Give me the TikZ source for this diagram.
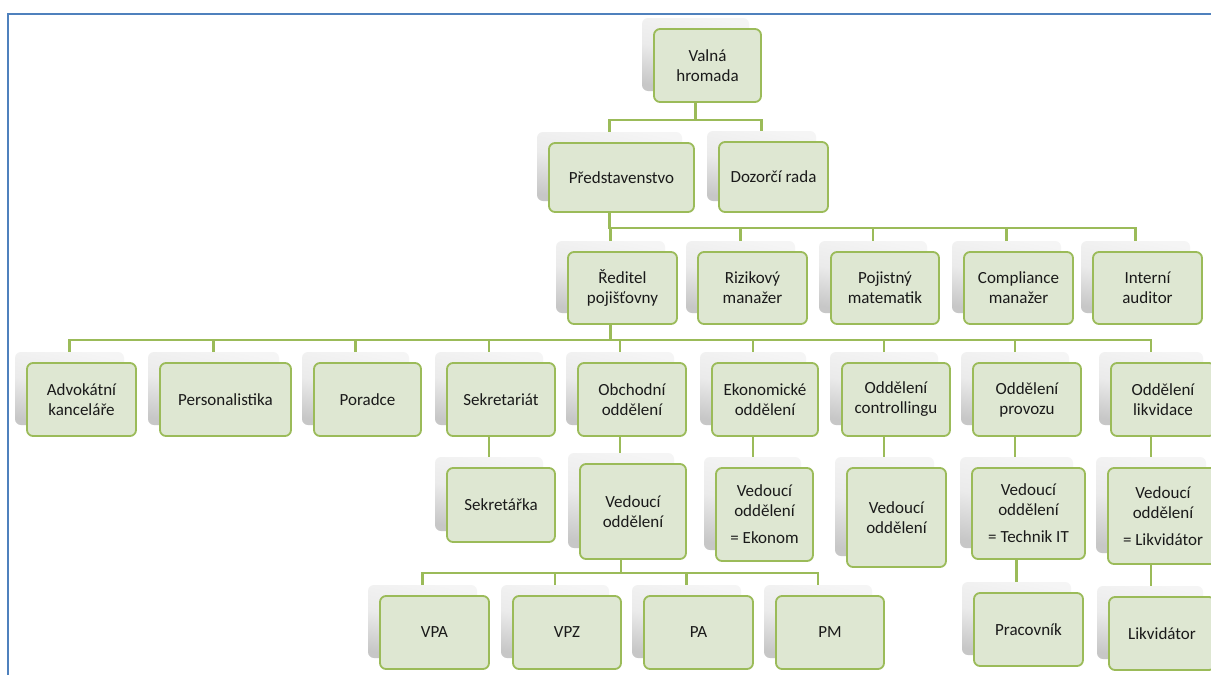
\documentclass[tikz,border=0pt]{standalone}
\usepackage{fontspec}
\setmainfont{Carlito}
\usetikzlibrary{calc}
\pgfdeclarelayer{bg}
\pgfsetlayers{bg,main}
\definecolor{ogreen}{HTML}{9BBB59}
\definecolor{ofill}{HTML}{DEE7D2}
\definecolor{oblue}{HTML}{4F81BD}
\definecolor{otext}{HTML}{1A1A1A}
\tikzset{
  backcard/.style={draw=none, rounded corners=6pt, top color=white!96!black, bottom color=black!22, middle color=white!92!black, shading angle=-12, inner sep=0pt},
  frontcard/.style={draw=ogreen, line width=1.8pt, fill=ofill, rounded corners=6pt, inner sep=0pt, align=center, text=otext, font=\fontsize{17}{20}\selectfont},
  conn/.style={draw=ogreen, line width=2.4pt},
  frameline/.style={draw=oblue, line width=2.5pt},
}
\newcommand\orgcard[6]{%
  \pgfmathsetmacro\cx{(#2+#4)/2}\pgfmathsetmacro\cy{(#3+#5)/2}%
  \pgfmathsetmacro\cw{#4-#2}\pgfmathsetmacro\ch{#5-#3}%
  \node[backcard, minimum width=\cw pt, minimum height=\ch pt] (#1-b) at (\cx-12,\cy-11) {};
  \node[frontcard, minimum width=\cw pt, minimum height=\ch pt] (#1) at (\cx,\cy) {#6};
}
\newcommand\orglink[3]{\draw[conn] (#1-b.center) -- (#1-b.center |- 0,#3) -| (#2-b.center);}
\newcommand\orgdown[2]{\draw[conn] (#1-b.center) -- (#1-b.center |- #2-b.center);}
\begin{document}
\begin{tikzpicture}[x=1pt,y=-1pt]
\useasboundingbox (0,0) rectangle (1211,675);
% level 1-2
\orgcard{valna}{654}{29}{761}{102}{Valná\\hromada}
\orgcard{pred}{549}{143}{694}{212}{Představenstvo}
\orgcard{dozor}{719}{142}{828}{212}{Dozorčí rada}
% level 3
\orgcard{redit}{568}{252}{677}{324}{Ředitel\\pojišťovny}
\orgcard{rizik}{698}{252}{807}{324}{Rizikový\\manažer}
\orgcard{pojist}{831}{252}{939}{324}{Pojistný\\matematik}
\orgcard{compl}{964}{252}{1073}{324}{Compliance\\manažer}
\orgcard{audit}{1093}{252}{1202}{324}{Interní\\auditor}
% level 4
\orgcard{advok}{27}{363}{136}{436}{Advokátní\\kanceláře}
\orgcard{perso}{160}{363}{291}{436}{Personalistika}
\orgcard{porad}{314}{363}{421}{436}{Poradce}
\orgcard{sekr}{447}{363}{555}{436}{Sekretariát}
\orgcard{obch}{578}{363}{686}{436}{Obchodní\\oddělení}
\orgcard{ekon}{712}{363}{818}{436}{Ekonomické\\oddělení}
\orgcard{contr}{842}{363}{950}{436}{Oddělení\\controllingu}
\orgcard{provoz}{973}{363}{1081}{436}{Oddělení\\provozu}
\orgcard{likv}{1111}{363}{1215}{436}{Oddělení\\likvidace}
% level 5
\orgcard{sekrka}{447}{468}{555}{542}{Sekretářka}
\orgcard{vobch}{580}{464}{686}{559}{Vedoucí\\oddělení}
\orgcard{vekon}{716}{468}{813}{561}{Vedoucí\\oddělení\\[7pt]= Ekonom}
\orgcard{vcontr}{847}{468}{946}{567}{Vedoucí\\oddělení}
\orgcard{vprov}{972}{468}{1085}{559}{Vedoucí\\oddělení\\[7pt]= Technik IT}
\orgcard{vlikv}{1108}{468}{1218}{564}{Vedoucí\\oddělení\\[7pt]= Likvidátor}
% level 6
\orgcard{vpa}{380}{596}{489}{669}{VPA}
\orgcard{vpz}{513}{596}{621}{669}{VPZ}
\orgcard{pa}{644}{596}{753}{669}{PA}
\orgcard{pm}{776}{596}{884}{669}{PM}
\orgcard{prac}{974}{593}{1083}{666}{Pracovník}
\orgcard{likvr}{1109}{597}{1215}{670}{Likvidátor}
\begin{pgfonlayer}{bg}
\fill[white] (0,0) rectangle (1211,675);
\draw[frameline] (1212,14) -- (8,14) -- (8,676);
\orglink{valna}{pred}{120}
\orglink{valna}{dozor}{120}
\foreach \c in {redit,rizik,pojist,compl,audit} {\orglink{pred}{\c}{228}}
\foreach \c in {advok,perso,porad,sekr,obch,ekon,contr,provoz,likv} {\orglink{redit}{\c}{340}}
\foreach \c in {vpa,vpz,pa,pm} {\orglink{vobch}{\c}{573}}
\orgdown{sekr}{sekrka}
\orgdown{obch}{vobch}
\orgdown{ekon}{vekon}
\orgdown{contr}{vcontr}
\orgdown{provoz}{vprov}
\orgdown{likv}{vlikv}
\orgdown{vprov}{prac}
\orgdown{vlikv}{likvr}
\end{pgfonlayer}
\end{tikzpicture}
\end{document}
